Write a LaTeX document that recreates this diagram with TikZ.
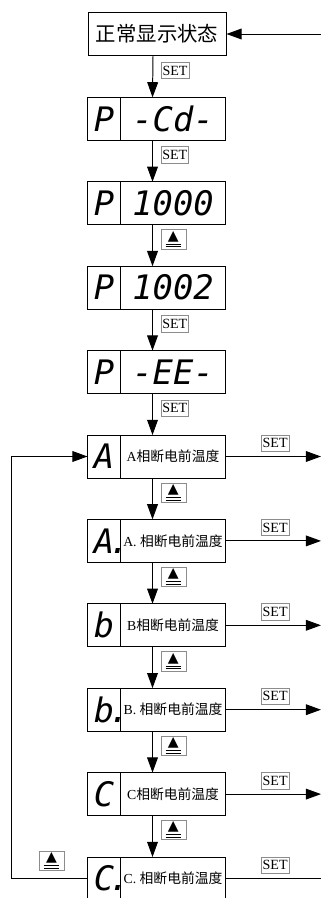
\documentclass[tikz,border=0pt]{standalone}
\usepackage{fontspec}
\setmainfont{Liberation Serif}
\newfontfamily\cjk{Noto Sans CJK SC}
\newfontfamily\segfont{DejaVu Sans Mono}
\newfontfamily\symfont{DejaVu Sans}
\usetikzlibrary{arrows.meta,positioning}

\newcommand{\upkey}{\underline{\underline{\,{\symfont ▲}\,}}}
\newcommand{\segdot}{\rlap{\kern-0.15em.}}

\begin{document}
\begin{tikzpicture}[
    node distance=1.035cm,
    normbox/.style={rectangle, draw, line width=0.7pt, minimum width=3.45cm, minimum height=1.075cm, inner sep=1pt, font=\cjk\fontsize{14.5}{16}\selectfont},
    lcell/.style={rectangle, draw, line width=0.7pt, outer sep=0pt, minimum width=0.825cm, minimum height=1.075cm, inner sep=0pt, font=\segfont\itshape\fontsize{24}{24}\selectfont},
    rcell/.style={rectangle, draw, line width=0.7pt, outer sep=0pt, minimum width=2.625cm, minimum height=1.075cm, inner sep=1pt, font=\fontsize{9.8}{11}\selectfont},
    rdisp/.style={rcell, font=\segfont\itshape\fontsize{24}{24}\selectfont},
    arrow/.style={-{Triangle[length=0.38cm,width=0.27cm]}, line width=0.7pt},
    keylab/.style={rectangle, draw=black!45, line width=0.5pt, fill=white, minimum width=0.625cm, minimum height=0.41cm, inner sep=1pt, font=\fontsize{10}{11}\selectfont},
]
    \useasboundingbox (0,0) rectangle (8.025,-22.45);

    % --- Normal display ---
    \node[normbox] (normal) at (3.925,-0.85) {正常显示状态};

    % --- P menu entries ---
    \node[lcell, below=1.035cm of normal.south west, anchor=north west] (L1) {P};
    \node[rdisp, right=0pt of L1] (R1) {-Cd-};
    \node[lcell, below=of L1] (L2) {P};
    \node[rdisp, right=0pt of L2] (R2) {1000};
    \node[lcell, below=of L2] (L3) {P};
    \node[rdisp, right=0pt of L3] (R3) {1002};
    \node[lcell, below=of L3] (L4) {P};
    \node[rdisp, right=0pt of L4] (R4) {-EE-};

    % --- Phase temperature entries ---
    \node[lcell, below=of L4] (L5) {A};
    \node[rcell, right=0pt of L5] (R5) {A{\cjk 相断电前温度}};
    \node[lcell, below=of L5] (L6) {A\segdot};
    \node[rcell, right=0pt of L6] (R6) {A.\ {\cjk 相断电前温度}};
    \node[lcell, below=of L6] (L7) {b};
    \node[rcell, right=0pt of L7] (R7) {B{\cjk 相断电前温度}};
    \node[lcell, below=of L7] (L8) {b\segdot};
    \node[rcell, right=0pt of L8] (R8) {B.\ {\cjk 相断电前温度}};
    \node[lcell, below=of L8] (L9) {C};
    \node[rcell, right=0pt of L9] (R9) {C{\cjk 相断电前温度}};
    \node[lcell, below=of L9] (L10) {C\segdot};
    \node[rcell, right=0pt of L10] (R10) {C.\ {\cjk 相断电前温度}};

    \coordinate (edge) at (8.025,0);
    \coordinate (loop) at (0.275,0);

    % --- Arrows down ---
    \draw[arrow] ([xshift=-0.1cm]normal.south) -- ([xshift=-0.5125cm]R1.north) node[keylab, pos=0.35, right=0.2cm] {SET};
    \draw[arrow] ([xshift=-0.5125cm]R1.south) -- ([xshift=-0.5125cm]R2.north) node[keylab, pos=0.35, right=0.2cm] {SET};
    \draw[arrow] ([xshift=-0.5125cm]R2.south) -- ([xshift=-0.5125cm]R3.north) node[keylab, pos=0.35, right=0.2cm] {\upkey};
    \draw[arrow] ([xshift=-0.5125cm]R3.south) -- ([xshift=-0.5125cm]R4.north) node[keylab, pos=0.35, right=0.2cm] {SET};
    \draw[arrow] ([xshift=-0.5125cm]R4.south) -- ([xshift=-0.5125cm]R5.north) node[keylab, pos=0.35, right=0.2cm] {SET};
    \draw[arrow] ([xshift=-0.5125cm]R5.south) -- ([xshift=-0.5125cm]R6.north) node[keylab, pos=0.35, right=0.2cm] {\upkey};
    \draw[arrow] ([xshift=-0.5125cm]R6.south) -- ([xshift=-0.5125cm]R7.north) node[keylab, pos=0.35, right=0.2cm] {\upkey};
    \draw[arrow] ([xshift=-0.5125cm]R7.south) -- ([xshift=-0.5125cm]R8.north) node[keylab, pos=0.35, right=0.2cm] {\upkey};
    \draw[arrow] ([xshift=-0.5125cm]R8.south) -- ([xshift=-0.5125cm]R9.north) node[keylab, pos=0.35, right=0.2cm] {\upkey};
    \draw[arrow] ([xshift=-0.5125cm]R9.south) -- ([xshift=-0.5125cm]R10.north) node[keylab, pos=0.35, right=0.2cm] {\upkey};

    % --- SET exits to the right ---
    \draw[arrow] (normal.east -| edge) -- (normal.east);
    \draw[arrow] (R5.east) -- (R5.east -| edge) node[keylab, pos=0.52, above=0.12cm] {SET};
    \draw[arrow] (R6.east) -- (R6.east -| edge) node[keylab, pos=0.52, above=0.12cm] {SET};
    \draw[arrow] (R7.east) -- (R7.east -| edge) node[keylab, pos=0.52, above=0.12cm] {SET};
    \draw[arrow] (R8.east) -- (R8.east -| edge) node[keylab, pos=0.52, above=0.12cm] {SET};
    \draw[arrow] (R9.east) -- (R9.east -| edge) node[keylab, pos=0.52, above=0.12cm] {SET};
    \draw[line width=0.7pt] (R10.east) -- (R10.east -| edge) node[keylab, pos=0.52, above=0.12cm] {SET};

    % --- Loop back to A ---
    \draw[arrow] (L10.west) -- (L10.west -| loop) node[keylab, pos=0.47, above=0.2cm] {\upkey} |- (L5.west);

\end{tikzpicture}
\end{document}
